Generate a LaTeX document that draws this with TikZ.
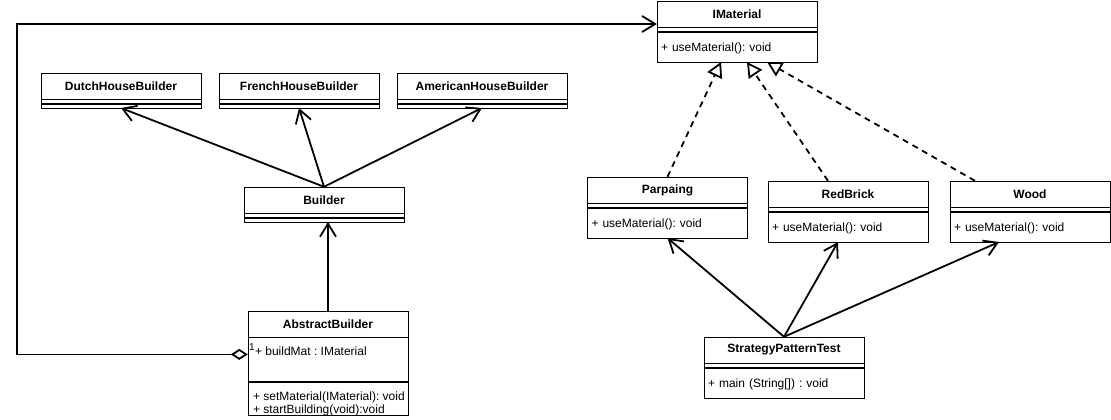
\documentclass[tikz,border=0pt]{standalone}
\usepackage{fontspec}
\setmainfont{Liberation Sans}
\usetikzlibrary{arrows.meta, positioning}
\frenchspacing

\begin{document}
\begin{tikzpicture}[
    x=1pt, y=-1pt,
    font=\fontsize{12}{13}\selectfont,
    head/.style={rectangle, draw, minimum width=160, minimum height=26,
                 inner sep=0pt, font=\fontsize{12}{13}\selectfont\bfseries},
    gap/.style={rectangle, draw, minimum width=160, minimum height=4, inner sep=0pt},
    body/.style={rectangle, draw, text width=152, inner xsep=4, inner ysep=0pt,
                 minimum height=30, align=left, text height=10pt, text depth=0pt},
    txt/.style={inner sep=0pt, align=left},
    mult/.style={inner sep=1pt, font=\fontsize{10}{10}\selectfont},
    assoc/.style={draw, line width=1.8pt, -{Straight Barb[length=13pt, width=16pt]}},
    real/.style={draw, line width=1.8pt, dash pattern=on 6pt off 5pt,
                 -{Triangle[open, length=15pt, width=16pt]}},
    agg/.style={draw, line width=1.8pt,
                {Diamond[open, length=17pt, width=11pt]}-{Straight Barb[length=13pt, width=16pt]}}
  ]
  \useasboundingbox (0,0) rectangle (1111,420);
  \fill[white] (0,0) rectangle (1111,420);

  % House builders
  \node[head] (dutch) at (121,86) {DutchHouseBuilder};
  \node[gap, below=0pt of dutch] (dutchG) {};
  \node[gap, below=0pt of dutchG] (dutchB) {};

  \node[head] (french) at (299,86) {FrenchHouseBuilder};
  \node[gap, below=0pt of french] (frenchG) {};
  \node[gap, below=0pt of frenchG] (frenchB) {};

  \node[head, minimum width=170] (american) at (482,86) {AmericanHouseBuilder};
  \node[gap, minimum width=170, below=0pt of american] (americanG) {};
  \node[gap, minimum width=170, below=0pt of americanG] (americanB) {};

  \node[head] (builder) at (324,200) {Builder};
  \node[gap, below=0pt of builder] (builderG) {};
  \node[gap, below=0pt of builderG] (builderB) {};

  \node[head] (abstract) at (328,324) {AbstractBuilder};
  \node[body, minimum height=44, below=0pt of abstract] (abstractA) {};
  \node[body, minimum height=33, below=0pt of abstractA] (abstractM) {};
  \node[txt, anchor=north west] (abstractAT) at ([xshift=7, yshift=-9.5]abstractA.north west)
        {+ buildMat : IMaterial};
  \node[txt, anchor=north west] (abstractMT) at ([xshift=5, yshift=-10.5]abstractM.north west)
        {+ setMaterial(IMaterial): void\\+ startBuilding(void):void};
  \node[mult, anchor=south west] (mult1) at ([yshift=8]abstractA.west) {1};

  % Materials
  \node[head] (imat) at (737,14) {IMaterial};
  \node[gap, below=0pt of imat] (imatG) {};
  \node[body, below=0pt of imatG] (imatB) {+ useMaterial(): void};

  \node[head] (parpaing) at (667.5,190) {Parpaing};
  \node[gap, below=0pt of parpaing] (parpaingG) {};
  \node[body, below=0pt of parpaingG] (parpaingB) {+ useMaterial(): void};

  \node[head] (redbrick) at (848,194) {RedBrick};
  \node[gap, below=0pt of redbrick] (redbrickG) {};
  \node[body, below=0pt of redbrickG] (redbrickB) {+ useMaterial(): void};

  \node[head] (wood) at (1030,194) {Wood};
  \node[gap, below=0pt of wood] (woodG) {};
  \node[body, below=0pt of woodG] (woodB) {+ useMaterial(): void};

  \node[head] (strat) at (784,350) {StrategyPatternTest};
  \node[gap, below=0pt of strat] (stratG) {};
  \node[body, below=0pt of stratG] (stratB) {+ main (String[]) : void};

  % Inheritance of builders
  \draw[assoc] (builder.north) -- (dutchB.south);
  \draw[assoc] (builder.north) -- (frenchB.south);
  \draw[assoc] (builder.north) -- (americanB.south);
  \draw[assoc] (abstract.north) -- (abstract.north |- builderB.south);

  % Aggregation to IMaterial
  \coordinate (aggbend) at (17,200);
  \draw[agg] ([yshift=5]abstractA.west) -| (aggbend) |- ([yshift=-10]imat.west);

  % Realizations
  \draw[real] (parpaing.north) -- ([xshift=-16]imatB.south);
  \draw[real] ([xshift=-20]redbrick.north) -- ([xshift=10]imatB.south);
  \draw[real] ([xshift=-55]wood.north) -- ([xshift=30]imatB.south);

  % Test client
  \draw[assoc] (strat.north) -- (parpaingB.south);
  \draw[assoc] (strat.north) -- ([xshift=-10]redbrickB.south);
  \draw[assoc] (strat.north) -- ([xshift=-31]woodB.south);
\end{tikzpicture}
\end{document}
